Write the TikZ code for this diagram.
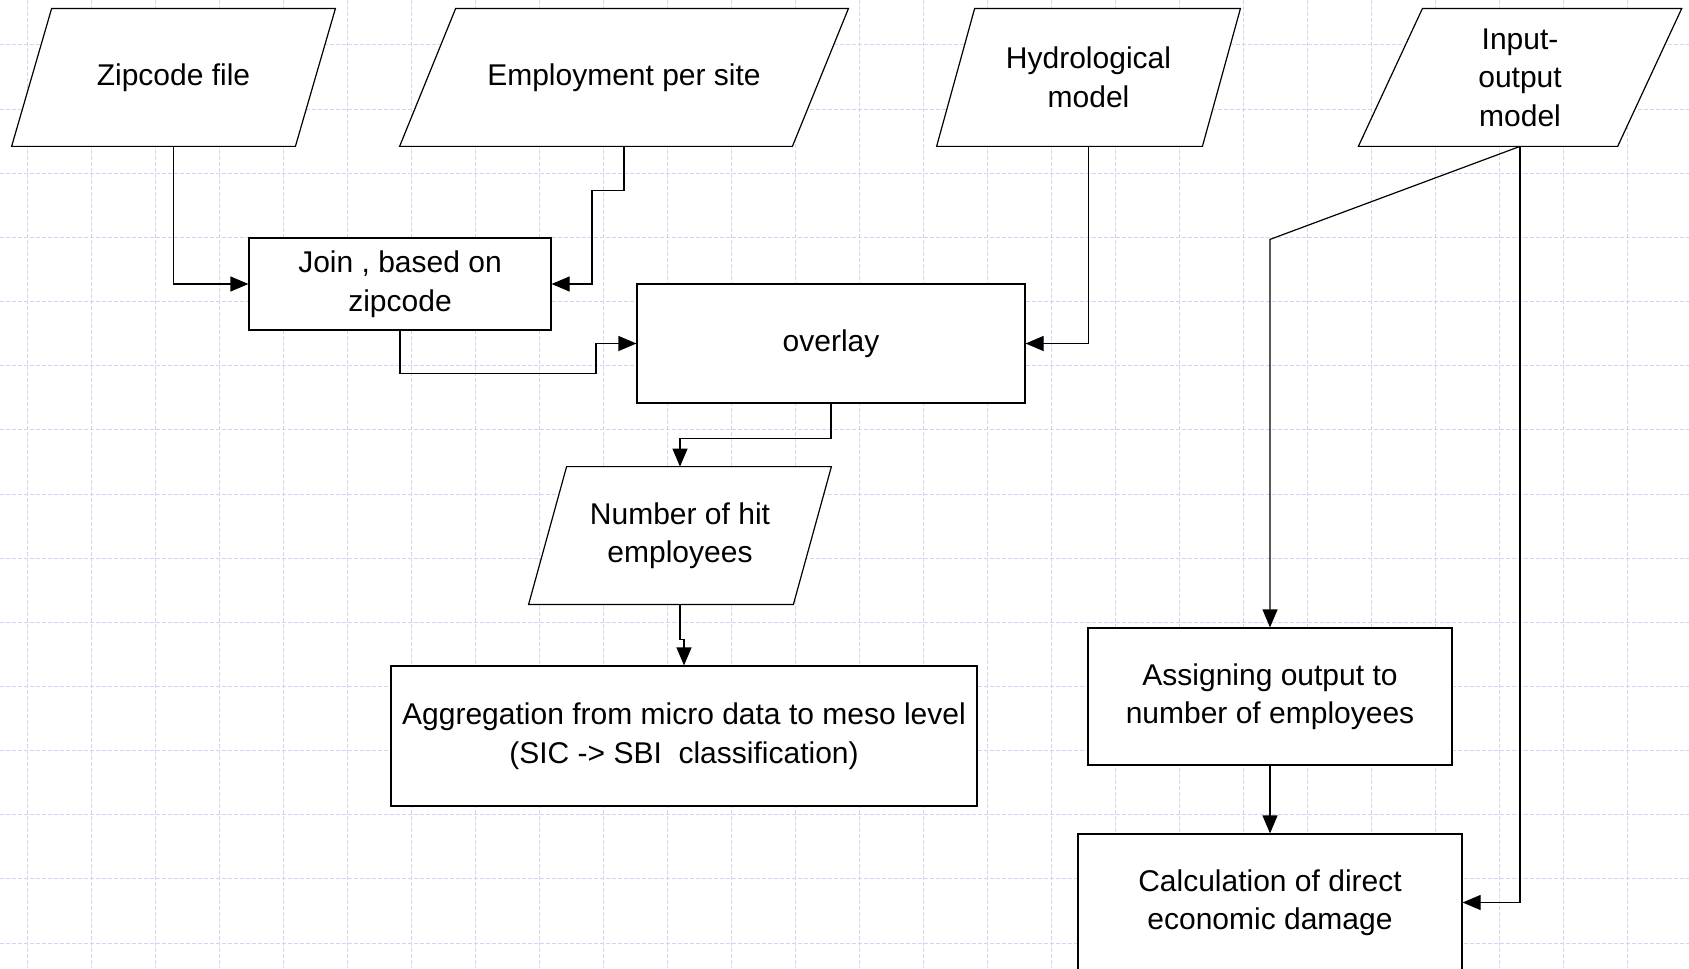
\documentclass[tikz,border=0pt]{standalone}
\usepackage{fontspec}
\setmainfont{Liberation Sans}
\usetikzlibrary{arrows.meta}
\pgfdeclarelayer{gridlayer}
\pgfdeclarelayer{shapelayer}
\pgfsetlayers{gridlayer,shapelayer,main}
\definecolor{gridblue}{RGB}{205,215,245}
\newcommand\paraline[2]{\draw[shapeline] ([xshift=#2]#1.north west) -- ([xshift=#2]#1.north east) -- ([xshift=-#2]#1.south east) -- ([xshift=-#2]#1.south west) -- cycle;}
\begin{document}
\begin{tikzpicture}[x=0.5pt,y=-0.5pt,
  txt/.style={inner sep=0pt, align=center, font=\fontsize{15pt}{19.25pt}\selectfont},
  box/.style={txt, draw=black, fill=white, line width=0.6pt},
  iotext/.style={txt, minimum height=68.5pt},
  conn/.style={draw=black, line width=0.6pt, -{Triangle[length=9pt,width=7.5pt]}},
  shapeline/.style={draw=black, fill=white, line width=0.6pt},
  gridline/.style={gridblue, line width=0.5pt, dash pattern=on 2pt off 1pt}]
\useasboundingbox (0,0) rectangle (1689,968);
\begin{pgfonlayer}{gridlayer}
\fill[white] (0,0) rectangle (1689,968);
\foreach \i in {0,...,26} \draw[gridline] (27+64*\i,0) -- (27+64*\i,968);
\foreach \j in {0,...,14} \draw[gridline] (0,45+64.15*\j) -- (1689,45+64.15*\j);
\end{pgfonlayer}

\node[iotext, minimum width=141.5pt] (zip) at (173.5,77.5) {Zipcode file};
\node[iotext, minimum width=196pt] (emp) at (624,77.5) {Employment per site};
\node[iotext, minimum width=132.5pt] (hyd) at (1088.5,77.5) {Hydrological\\model};
\node[iotext, minimum width=129.25pt] (io) at (1520,77.5) {Input-\\output\\model};
\node[box, minimum width=151pt, minimum height=46pt] (join) at (400,284) {Join , based on\\zipcode};
\node[box, minimum width=194pt, minimum height=59.5pt] (overlay) at (831,343.5) {overlay};
\node[iotext, minimum width=132pt] (hit) at (680,535.5) {Number of hit\\employees};
\node[box, minimum width=293pt, minimum height=70pt] (agg) at (684,736) {Aggregation from micro data to meso level\\(SIC -> SBI\ \ classification)};
\node[box, minimum width=182pt, minimum height=68.5pt] (assign) at (1270,696.5) {Assigning output to\\number of employees};
\node[box, minimum width=192pt, minimum height=68.5pt] (calc) at (1270,902.5) {Calculation of direct\\economic damage};

\begin{pgfonlayer}{shapelayer}
\paraline{zip}{10pt}
\paraline{emp}{14pt}
\paraline{hyd}{9.5pt}
\paraline{io}{16pt}
\paraline{hit}{9.5pt}
\end{pgfonlayer}

\draw[conn] (zip.south) |- (join.west);
\draw[conn] (emp.south) -- ++(0,44) -- ++(-32,0) |- (join.east);
\draw[conn] (join.south) -- ++(0,43) -- ++(196,0) |- (overlay.west);
\draw[conn] (hyd.south) |- (overlay.east);
\draw[conn] (overlay.south) -- ++(0,35) -| (hit.north);
\draw[conn] (hit.south) -- ++(0,35) -| (agg.north);
\draw[conn] (io.south) -- ++(-250,93) -- (assign.north);
\draw[conn] (io.south) |- (calc.east);
\draw[conn] (assign.south) -- (calc.north);
\end{tikzpicture}
\end{document}
